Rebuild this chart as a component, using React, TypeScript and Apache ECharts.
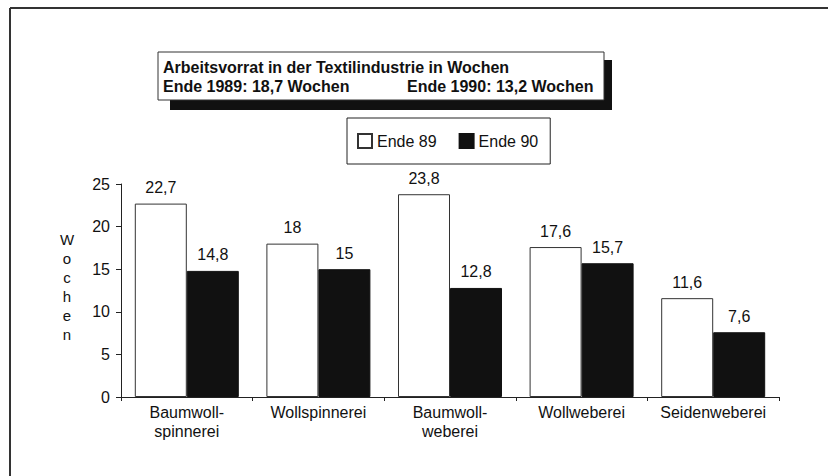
import React, { useEffect, useRef } from "react";
import * as echarts from "echarts";

const categories = ["Baumwoll-\nspinnerei", "Wollspinnerei", "Baumwoll-\nweberei", "Wollweberei", "Seidenweberei"];
const ende89 = [22.7, 18, 23.8, 17.6, 11.6];
const ende90 = [14.8, 15, 12.8, 15.7, 7.6];
const yTicks = { min: 0, max: 25, interval: 5 };
const titleLine1 = "Arbeitsvorrat in der Textilindustrie in Wochen";
const titleLine2a = "Ende 1989: 18,7 Wochen";
const titleLine2b = "Ende 1990: 13,2 Wochen";
const seriesNames = ["Ende 89", "Ende 90"];
const yName = "Wochen";

const FONT = "'Liberation Sans', Arial, Helvetica, sans-serif";
const fmt = (v: number) => String(v).replace(".", ",");

export default function App() {
  const ref = useRef<HTMLDivElement>(null);
  useEffect(() => {
    if (!ref.current) return;
    const chart = echarts.init(ref.current, undefined, { renderer: "svg" });
    const labelCfg = {
      show: true,
      position: "top" as const,
      distance: 8,
      fontSize: 16,
      fontFamily: FONT,
      color: "#111",
      formatter: (p: any) => fmt(p.value),
    };
    chart.setOption({
      animation: false,
      backgroundColor: "#fff",
      textStyle: { fontFamily: FONT },
      grid: { left: 121, top: 184, width: 658, height: 213, containLabel: false },
      legend: {
        data: seriesNames,
        left: 347,
        top: 118,
        orient: "horizontal",
        padding: [15, 12, 15, 10],
        itemWidth: 14,
        itemHeight: 14,
        itemGap: 22,
        borderColor: "#222",
        borderWidth: 1,
        backgroundColor: "#fff",
        icon: "rect",
        textStyle: { fontSize: 16, color: "#111", fontFamily: FONT },
      },
      xAxis: {
        type: "category",
        data: categories,
        axisLine: { show: true, lineStyle: { color: "#222", width: 1 } },
        axisTick: { show: true, length: 4, alignWithLabel: false, lineStyle: { color: "#222" } },
        axisLabel: { fontSize: 16, lineHeight: 19, margin: 6, color: "#111", fontFamily: FONT, interval: 0 },
      },
      yAxis: {
        type: "value",
        min: yTicks.min,
        max: yTicks.max,
        interval: yTicks.interval,
        splitLine: { show: false },
        axisLine: { show: true, lineStyle: { color: "#222", width: 1 } },
        axisTick: { show: true, length: 5, lineStyle: { color: "#222" } },
        axisLabel: { fontSize: 16, margin: 11, color: "#111", fontFamily: FONT },
      },
      series: [
        {
          name: seriesNames[0],
          type: "bar",
          data: ende89,
          barWidth: 52,
          barGap: "0%",
          itemStyle: { color: "#fff", borderColor: "#333", borderWidth: 1 },
          label: labelCfg,
        },
        {
          name: seriesNames[1],
          type: "bar",
          data: ende90,
          barWidth: 52,
          barGap: "0%",
          itemStyle: { color: "#111", borderColor: "#111", borderWidth: 1 },
          label: labelCfg,
        },
      ],
      graphic: [
        { type: "line", shape: { x1: 10, y1: 8, x2: 828, y2: 8 }, style: { stroke: "#333", lineWidth: 2 } },
        { type: "line", shape: { x1: 10, y1: 8, x2: 10, y2: 476 }, style: { stroke: "#333", lineWidth: 2 } },
        { type: "rect", shape: { x: 170, y: 60, width: 442, height: 50 }, style: { fill: "#111" } },
        { type: "rect", shape: { x: 158, y: 52, width: 446, height: 48 }, style: { fill: "#fff", stroke: "#333", lineWidth: 1 } },
        { type: "text", x: 163, y: 67, style: { text: titleLine1, font: `bold 16px ${FONT}`, fill: "#111", verticalAlign: "middle" } },
        { type: "text", x: 163, y: 86, style: { text: titleLine2a, font: `bold 16px ${FONT}`, fill: "#111", verticalAlign: "middle" } },
        { type: "text", x: 407, y: 86, style: { text: titleLine2b, font: `bold 16px ${FONT}`, fill: "#111", verticalAlign: "middle" } },
        {
          type: "text",
          x: 67,
          y: 287,
          style: {
            text: yName.split("").join("\n"),
            font: `15px ${FONT}`,
            lineHeight: 19,
            fill: "#111",
            align: "center",
            verticalAlign: "middle",
          },
        },
      ],
    });
    return () => chart.dispose();
  }, []);
  return <div ref={ref} style={{ position: "fixed", left: 0, top: 0, width: 828, height: 476 }} />;
}
